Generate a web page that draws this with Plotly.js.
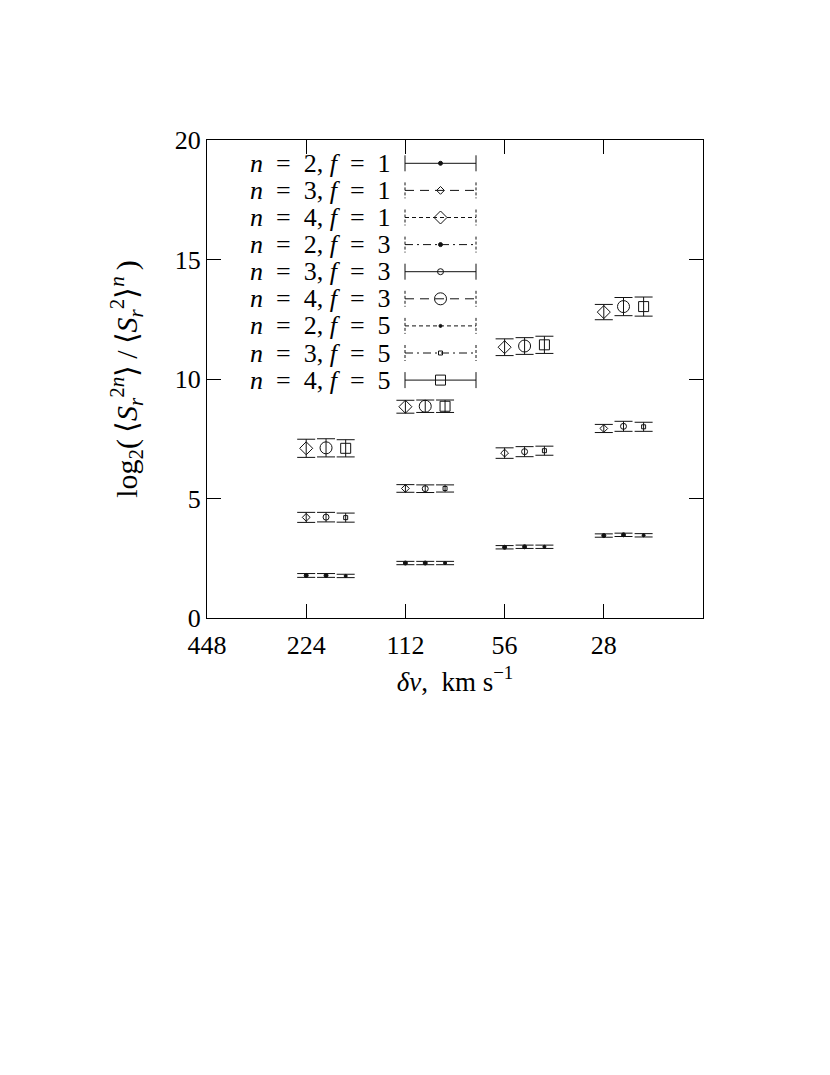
<!DOCTYPE html>
<html>
<head>
<meta charset="utf-8">
<script src="https://cdn.plot.ly/plotly-3.0.1.min.js"></script>
<style>
  body { margin: 0; background: #fff; }
  #plot { width: 830px; height: 1075px; }
</style>
</head>
<body>
<div id="plot"></div>
<script>
// velocity bins (km/s) and the shifted x positions used for f = 3 and f = 5
const dvTicks = [448, 224, 112, 56, 28];
const xF1 = [224, 112, 56, 28];
const xF3 = [195, 97.5, 48.7, 24.4];
const xF5 = [170, 84.9, 42.4, 21.2];

// log2(<S^2n>/<S^2>^n) values and errors
const n2f1 = [1.78, 2.30, 2.96, 3.45];
const n2f1Err = [0.08, 0.07, 0.07, 0.07];
const n3f1 = [4.21, 5.42, 6.90, 7.93];
const n3f1Err = [0.21, 0.16, 0.22, 0.17];
const n4f1 = [7.10, 8.84, 11.33, 12.80];
const n4f1Err = [0.38, 0.27, 0.35, 0.32];

const n2f3 = [1.78, 2.30, 2.98, 3.48];
const n2f3Err = [0.08, 0.07, 0.07, 0.07];
const n3f3 = [4.22, 5.41, 6.96, 8.02];
const n3f3Err = [0.20, 0.16, 0.21, 0.21];
const n4f3 = [7.12, 8.86, 11.38, 13.03];
const n4f3Err = [0.38, 0.26, 0.35, 0.38];

const n2f5 = [1.76, 2.30, 2.98, 3.46];
const n2f5Err = [0.07, 0.07, 0.07, 0.07];
const n3f5 = [4.20, 5.42, 7.00, 8.00];
const n3f5Err = [0.19, 0.15, 0.19, 0.19];
const n4f5 = [7.10, 8.86, 11.43, 13.03];
const n4f5Err = [0.36, 0.26, 0.36, 0.40];

const nVals = [2, 3, 4, 2, 3, 4, 2, 3, 4];
const fVals = [1, 1, 1, 3, 3, 3, 5, 5, 5];

const FONT = 'Liberation Serif, Times New Roman, serif';
const SP = '\u00a0\u00a0';

// style of each series: marker and line dash (gnuplot-like)
const series = [
  { x: xF1, y: n2f1, e: n2f1Err, sym: 'circle', size: 4, dash: 'solid' },
  { x: xF1, y: n3f1, e: n3f1Err, sym: 'diamond-open', size: 6, dash: '9px,6px' },
  { x: xF1, y: n4f1, e: n4f1Err, sym: 'diamond-open', size: 10, dash: '4px,3px' },
  { x: xF3, y: n2f3, e: n2f3Err, sym: 'circle', size: 4, dash: '8px,4px,2px,4px' },
  { x: xF3, y: n3f3, e: n3f3Err, sym: 'circle-open', size: 6, dash: 'solid' },
  { x: xF3, y: n4f3, e: n4f3Err, sym: 'circle-open', size: 12, dash: '9px,6px' },
  { x: xF5, y: n2f5, e: n2f5Err, sym: 'circle', size: 3, dash: '4px,3px' },
  { x: xF5, y: n3f5, e: n3f5Err, sym: 'square-open', size: 4, dash: '8px,4px,2px,4px' },
  { x: xF5, y: n4f5, e: n4f5Err, sym: 'square-open', size: 10, dash: 'solid' }
];

let data = [];
series.forEach(function (s) {
  data.push({
    x: s.x, y: s.y,
    mode: 'markers',
    type: 'scatter',
    showlegend: false,
    marker: { symbol: s.sym, size: s.size, color: '#111', line: { color: '#111', width: 1 } },
    error_y: { type: 'data', array: s.e, visible: true, color: '#111', thickness: 1, width: 9 }
  });
});

// key drawn by hand (text left, sample right) on a pixel-like overlay axis
const keyX0 = 405, keyX1 = 476, keyMid = 440.5, keyTop = 163.3, keyStep = 27.1;
let shapes = [];
let annotations = [];
series.forEach(function (s, i) {
  const ry = keyTop + i * keyStep;
  data.push({
    x: [keyX0, keyMid, keyX1], y: [ry, ry, ry],
    xaxis: 'x2', yaxis: 'y2',
    mode: 'lines+markers',
    showlegend: false,
    hoverinfo: 'skip',
    line: { color: '#111', width: 1, dash: s.dash },
    marker: { symbol: s.sym, size: s.size, color: '#111', opacity: [0, 1, 0], line: { color: '#111', width: 1 } }
  });
  [keyX0, keyX1].forEach(function (kx) {
    shapes.push({
      type: 'line', xref: 'x2', yref: 'y2',
      x0: kx, x1: kx, y0: ry - 8, y1: ry + 8,
      line: { color: '#111', width: 1, dash: s.dash === 'solid' ? 'solid' : '3px,2px' }
    });
  });
  annotations.push({
    xref: 'x2', yref: 'y2', x: 393, y: ry,
    xanchor: 'right', yanchor: 'middle',
    text: '<i>n</i>' + SP + '=' + SP + nVals[i] + ', <i>f</i>' + SP + '=' + SP + fVals[i],
    showarrow: false,
    font: { family: FONT, size: 26, color: '#000' }
  });
});

const layout = {
  width: 830, height: 1075,
  autosize: false,
  margin: { l: 207, r: 127, t: 140, b: 457 },
  paper_bgcolor: '#fff',
  plot_bgcolor: '#fff',
  showlegend: false,
  font: { family: FONT, size: 26, color: '#000' },
  xaxis: {
    type: 'log',
    range: [Math.log10(448), Math.log10(14)],
    tickvals: dvTicks,
    ticktext: dvTicks.map(String),
    ticks: 'inside', ticklen: 14, tickcolor: '#000', tickwidth: 1,
    mirror: 'allticks', showline: true, linecolor: '#000', linewidth: 1,
    showgrid: false, zeroline: false,
    ticklabelstandoff: 4,
    tickfont: { family: FONT, size: 26 },
    title: { text: '<i>δv</i>,' + SP + 'km' + '\u00a0' + 's<sup>−1</sup>', font: { family: FONT, size: 27 }, standoff: 12 }
  },
  yaxis: {
    range: [0, 20],
    tickvals: [0, 5, 10, 15, 20],
    ticks: 'inside', ticklen: 14, tickcolor: '#000', tickwidth: 1,
    mirror: 'allticks', showline: true, linecolor: '#000', linewidth: 1,
    showgrid: false, zeroline: false,
    tickfont: { family: FONT, size: 26 },
    title: {
      text: 'log<sub>2</sub>(\u2009⟨<i>S</i><sub><i>r</i></sub><sup>2<i>n</i></sup>⟩\u2009/\u2009⟨<i>S</i><sub><i>r</i></sub><sup>2</sup>⟩<sup><i>n</i></sup>\u2009)',
      font: { family: FONT, size: 30 }, standoff: 28
    }
  },
  xaxis2: { overlaying: 'x', anchor: 'y2', range: [207, 703], visible: false, fixedrange: true },
  yaxis2: { overlaying: 'y', anchor: 'x2', range: [618, 140], visible: false, fixedrange: true },
  shapes: shapes,
  annotations: annotations
};

Plotly.newPlot('plot', data, layout, { displayModeBar: false, staticPlot: true });
</script>
</body>
</html>
